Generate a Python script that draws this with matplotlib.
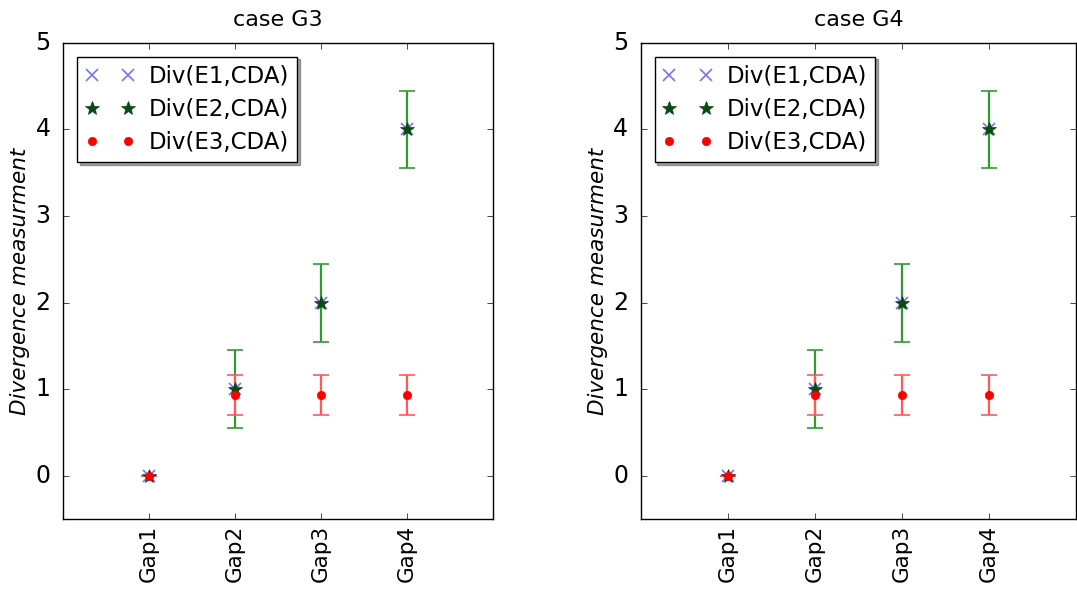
import numpy as np
import matplotlib
matplotlib.use("Agg")
import matplotlib.pyplot as plt
from matplotlib.lines import Line2D

plt.style.use('classic')

gaps = ['Gap1', 'Gap2', 'Gap3', 'Gap4']
cases = ['case G3', 'case G4']

# divergence values per case
e1_vals = [0, 1, 2, 4]
e2_vals = [0, 1, 2, 4]
e2_err = [0, 0.45, 0.45, 0.45]
e3_vals = [0, 0.93, 0.93, 0.93]
e3_err = [0, 0.23, 0.23, 0.23]
labels = ['Div(E1,CDA)', 'Div(E2,CDA)', 'Div(E3,CDA)']

blue = (0.45, 0.45, 1.0)
dgreen = '#0b4a12'

fig = plt.figure(figsize=(10.77, 5.99), dpi=100, facecolor='white')

# axes placed by hand: second panel runs up to the right edge
positions = [[0.0585, 0.1336, 0.3993, 0.7947],
             [0.5950, 0.1336, 0.4040, 0.7947]]

x = np.arange(1, len(gaps) + 1)

for pos, title in zip(positions, cases):
    ax = fig.add_axes(pos)
    ax.plot(x, e1_vals, linestyle='none', marker='x', markersize=9,
            markeredgewidth=1.2, color=blue)
    ax.errorbar(x, e2_vals, yerr=e2_err, fmt='*', color=dgreen,
                markersize=10, markeredgecolor=dgreen, ecolor=(0.2, 0.6, 0.2),
                elinewidth=1.6, capsize=6, capthick=1.2)
    ax.errorbar(x, e3_vals, yerr=e3_err, fmt='o', color='red',
                markersize=6, markeredgecolor='red', ecolor=(1.0, 0.35, 0.35),
                elinewidth=1.6, capsize=6, capthick=1.2)
    ax.set_xlim(0, 5)
    ax.set_ylim(-0.5, 5)
    ax.set_xticks(x)
    ax.set_xticklabels(gaps, rotation=90, fontsize=15.5)
    ax.set_yticks([0, 1, 2, 3, 4, 5])
    ax.tick_params(axis='y', labelsize=17, pad=9)
    ax.set_title(title, fontsize=16, pad=12)
    ax.set_ylabel('Divergence measurment', fontsize=15.5, style='italic', labelpad=4)
    handles = [
        Line2D([], [], linestyle='none', marker='x', markersize=9, markeredgewidth=1.2, color=blue),
        Line2D([], [], linestyle='none', marker='*', markersize=10, color=dgreen, markeredgecolor=dgreen),
        Line2D([], [], linestyle='none', marker='o', markersize=6, color='red', markeredgecolor='red'),
    ]
    ax.legend(handles, labels, loc='upper left', numpoints=2, shadow=True, fontsize=16.5,
              handlelength=2.2, handletextpad=0.6, borderpad=0.35, labelspacing=0.45,
              borderaxespad=0.6)

fig.savefig('out.png', dpi=100, facecolor='white')
